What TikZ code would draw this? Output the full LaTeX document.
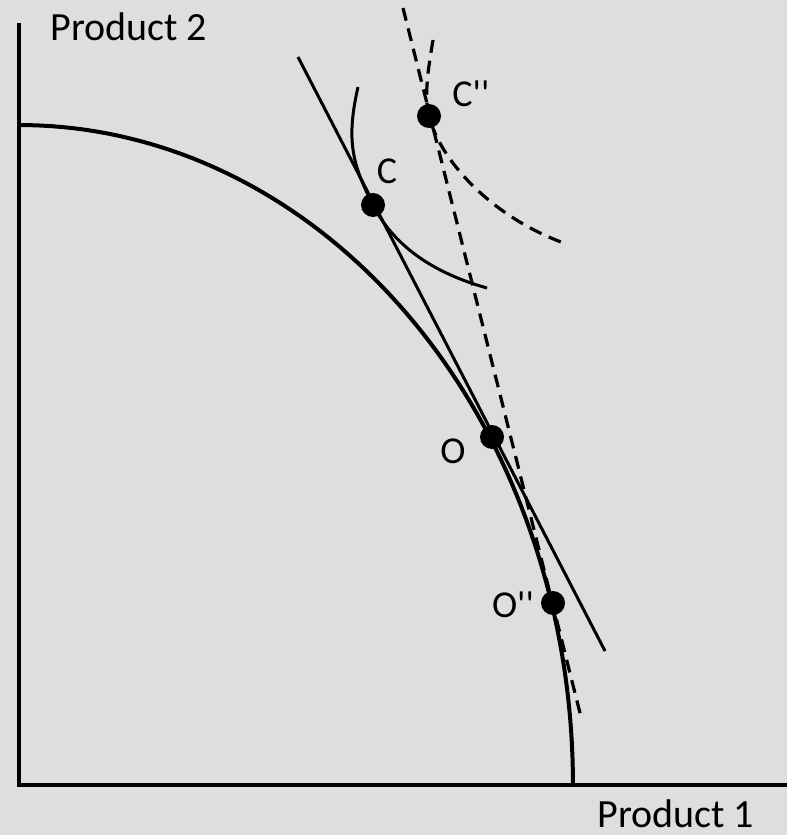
\documentclass[tikz,border=0pt]{standalone}
\usepackage{fontspec}
\setmainfont{Carlito}
\newfontfamily\ptfont{Carlito}[Ligatures=TeXOff]
\usepackage{xcolor}
\definecolor{paper}{RGB}{222,222,222}
\usetikzlibrary{positioning,calc}

\begin{document}
\begin{tikzpicture}[
  x=0.5pt, y=-0.5pt,
  axis/.style={line width=2pt},
  ppf/.style={line width=2pt},
  budget/.style={line width=1.5pt},
  budgetnew/.style={line width=1.6pt, dash pattern=on 6.5pt off 4pt},
  indiff/.style={line width=1.5pt},
  indiffnew/.style={line width=1.6pt, dash pattern=on 6.5pt off 4pt},
  dot/.style={circle, fill=black, inner sep=0pt, minimum size=12pt},
  lbl/.style={font=\ptfont\fontsize{19}{22}\selectfont, inner sep=0pt},
  axlbl/.style={font=\fontsize{20}{24}\selectfont, inner sep=0pt, anchor=base west}
]
\fill[paper] (0,0) rectangle (787,835);
\useasboundingbox (0,0) rectangle (787,835);

% axes
\coordinate (origin) at (19,785);
\coordinate (ytop) at (19,23);
\coordinate (xend) at (787,785);
\draw[axis] (ytop) -- (origin) -- (xend);
\node[axlbl] (p2) at (50,40) {Product 2};
\node[axlbl] (p1) at (597,827) {Product 1};

% production possibility frontier
\draw[ppf] plot[domain=0:90, samples=80] ({19+554*cos(\x)}, {785-660*sin(\x)});

% points
\coordinate (C)   at (373,205);
\coordinate (Cpp) at (429,116);
\coordinate (O)   at (492,437);
\coordinate (Opp) at (553,603);

% price lines
\coordinate (b1) at (298,57);
\coordinate (b2) at (605,651);
\draw[budget] (b1) -- (b2);
\coordinate (d1) at (403,8);
\coordinate (d2) at (581,717);
\draw[budgetnew] (d1) -- (d2);

% indifference curves
\coordinate (i1) at (358,87);
\coordinate (i2) at (487,288);
\draw[indiff] (i1) .. controls (346,140) and (352,164) .. (C)
  .. controls (393,244) and (430,272) .. (i2);
\coordinate (j1) at (433,40);
\coordinate (j2) at (561,242);
\draw[indiffnew] (j1) .. controls (428,70) and (424,95) .. (Cpp)
  .. controls (440,160) and (490,215) .. (j2);

\node[dot] (dC)   at (C) {};
\node[dot] (dCpp) at (Cpp) {};
\node[dot] (dO)   at (O) {};
\node[dot] (dOpp) at (Opp) {};

\node[lbl] (lC)   at (387,171) {C};
\node[lbl] (lCpp) at (471,94) {C''};
\node[lbl] (lO)   at (453,451) {O};
\node[lbl] (lOpp) at (513,605) {O''};
\end{tikzpicture}
\end{document}
